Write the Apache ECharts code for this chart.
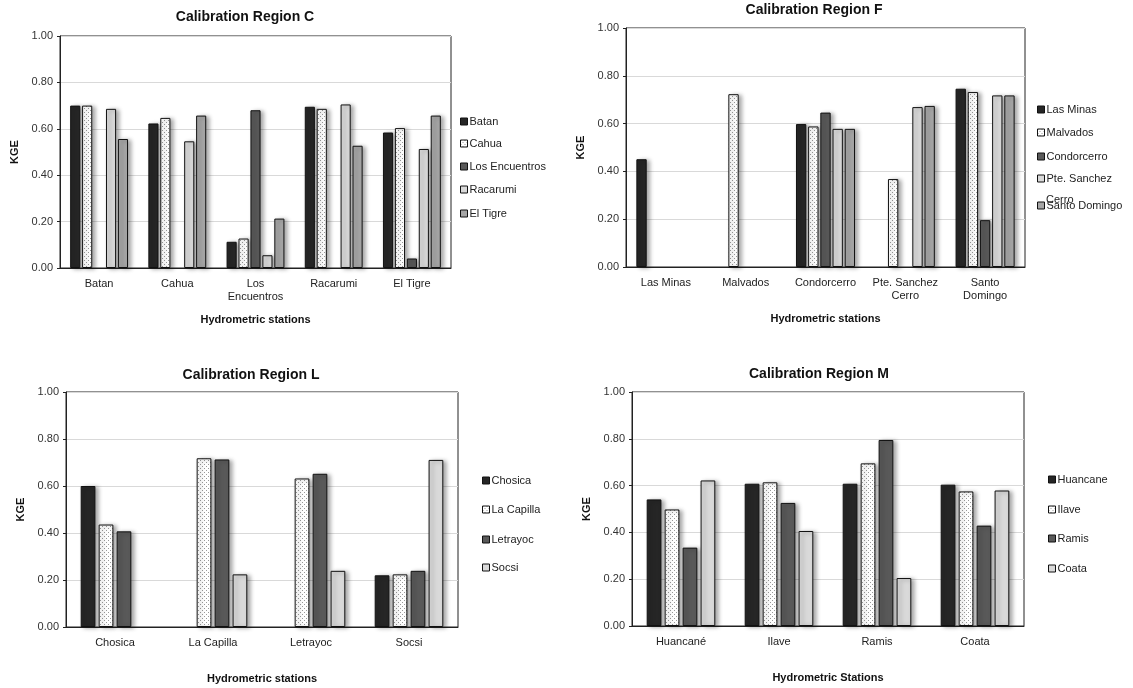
<!DOCTYPE html>
<html>
<head>
<meta charset="utf-8">
<script src="https://cdn.jsdelivr.net/npm/echarts@6/dist/echarts.min.js"></script>
<style>
html,body{margin:0;padding:0;background:#fff;}
#chart{width:1133px;height:688px;}
</style>
</head>
<body>
<div id="chart"></div>
<script>
// ---------- DATA ----------
// Region C
const catsC = ['Batan', 'Cahua', 'Los\nEncuentros', 'Racarumi', 'El Tigre'];
const namesC = ['Batan', 'Cahua', 'Los Encuentros', 'Racarumi', 'El Tigre'];
const C_batan = [0.70, 0.623, 0.113, 0.695, 0.584];
const C_cahua = [0.70, 0.647, 0.127, 0.686, 0.603];
const C_losEncuentros = [null, null, 0.680, null, 0.041];
const C_racarumi = [0.686, 0.546, 0.055, 0.705, 0.513];
const C_elTigre = [0.556, 0.657, 0.213, 0.527, 0.657];

// Region F
const catsF = ['Las Minas', 'Malvados', 'Condorcerro', 'Pte. Sanchez\nCerro', 'Santo\nDomingo'];
const namesF = ['Las Minas', 'Malvados', 'Condorcerro', 'Pte. Sanchez Cerro', 'Santo Domingo'];
const F_lasMinas = [0.451, null, 0.598, null, 0.746];
const F_malvados = [null, 0.723, 0.588, 0.368, 0.732];
const F_condorcerro = [null, null, 0.646, null, 0.196];
const F_pteSanchezCerro = [null, null, 0.578, 0.669, 0.718];
const F_santoDomingo = [null, null, 0.578, 0.674, 0.718];

// Region L
const catsL = ['Chosica', 'La Capilla', 'Letrayoc', 'Socsi'];
const namesL = ['Chosica', 'La Capilla', 'Letrayoc', 'Socsi'];
const L_chosica = [0.600, null, null, 0.220];
const L_laCapilla = [0.436, 0.718, 0.632, 0.224];
const L_letrayoc = [0.407, 0.713, 0.652, 0.239];
const L_socsi = [null, 0.224, 0.239, 0.711];

// Region M
const catsM = ['Huancané', 'Ilave', 'Ramis', 'Coata'];
const namesM = ['Huancane', 'Ilave', 'Ramis', 'Coata'];
const M_huancane = [0.541, 0.608, 0.608, 0.604];
const M_ilave = [0.498, 0.614, 0.695, 0.575];
const M_ramis = [0.335, 0.526, 0.795, 0.429];
const M_coata = [0.622, 0.406, 0.205, 0.579];

const yTicks = [0, 0.2, 0.4, 0.6, 0.8, 1.0];

// ---------- STYLE ----------
const FONT = 'Liberation Sans, Arial, sans-serif';
function dotPattern() {
  const c = document.createElement('canvas');
  c.width = 4; c.height = 4;
  const g = c.getContext('2d');
  g.fillStyle = '#ffffff'; g.fillRect(0, 0, 4, 4);
  g.fillStyle = '#9a9a9a';
  g.fillRect(0, 0, 1, 1); g.fillRect(2, 2, 1, 1);
  return c;
}
const DOTS = { image: dotPattern(), repeat: 'repeat' };
const fillsC = ['#262626', DOTS, '#595959', '#d9d9d9', '#a6a6a6'];
const fillsF = ['#262626', DOTS, '#595959', '#d9d9d9', '#a6a6a6'];
const fillsL = ['#262626', DOTS, '#595959', '#d9d9d9'];
const fillsM = ['#262626', DOTS, '#595959', '#d9d9d9'];

const panels = [
  { title: 'Calibration Region C', tx: 245, ty: 17,
    grid: { left: 60, top: 36, width: 391, height: 232 },
    cats: catsC, names: namesC, fills: fillsC,
    values: [C_batan, C_cahua, C_losEncuentros, C_racarumi, C_elTigre],
    xName: 'Hydrometric stations', catGap: '26%', barGap: '18%',
    lx: 460, ly: [123, 145, 168, 191, 215] },
  { title: 'Calibration Region F', tx: 814, ty: 10,
    grid: { left: 626, top: 28, width: 399, height: 239 },
    cats: catsF, names: namesF, fills: fillsF,
    values: [F_lasMinas, F_malvados, F_condorcerro, F_pteSanchezCerro, F_santoDomingo],
    xName: 'Hydrometric stations', catGap: '26%', barGap: '18%',
    lx: 1037, ly: [111, 134, 158, 180, 207] },
  { title: 'Calibration Region L', tx: 251, ty: 375,
    grid: { left: 66, top: 392, width: 392, height: 235 },
    cats: catsL, names: namesL, fills: fillsL,
    values: [L_chosica, L_laCapilla, L_letrayoc, L_socsi],
    xName: 'Hydrometric stations', catGap: '30%', barGap: '22%',
    lx: 482, ly: [482, 511, 541, 569] },
  { title: 'Calibration Region M', tx: 819, ty: 374,
    grid: { left: 632, top: 392, width: 392, height: 234 },
    cats: catsM, names: namesM, fills: fillsM,
    values: [M_huancane, M_ilave, M_ramis, M_coata],
    xName: 'Hydrometric Stations', catGap: '30%', barGap: '22%',
    lx: 1048, ly: [481, 511, 540, 570] }
];

// ---------- OPTION ----------
const option = {
  animation: false,
  backgroundColor: '#ffffff',
  grid: [], xAxis: [], yAxis: [], series: [], legend: [], graphic: []
};

panels.forEach((p, i) => {
  option.grid.push(Object.assign({ show: true, borderColor: '#222', borderWidth: 1, backgroundColor: 'transparent' }, p.grid));
  option.xAxis.push({
    type: 'category', gridIndex: i, data: p.cats,
    axisTick: { show: false },
    axisLine: { lineStyle: { color: '#222', width: 1 } },
    axisLabel: { interval: 0, fontSize: 11, color: '#222', fontFamily: FONT, margin: 9, lineHeight: 13 },
    name: p.xName, nameLocation: 'middle', nameGap: 46,
    nameTextStyle: { fontWeight: 'bold', fontSize: 11, color: '#111', fontFamily: FONT }
  });
  option.yAxis.push({
    type: 'value', gridIndex: i, min: yTicks[0], max: yTicks[yTicks.length - 1], interval: 0.2,
    axisLine: { show: true, lineStyle: { color: '#222', width: 1 } },
    axisTick: { show: true, length: 3, lineStyle: { color: '#222' } },
    axisLabel: { formatter: v => v.toFixed(2), fontSize: 11, color: '#333', fontFamily: FONT, margin: 7 },
    splitLine: { lineStyle: { color: '#d9d9d9', width: 1 } },
    name: 'KGE', nameLocation: 'middle', nameGap: 40, nameRotate: 90,
    nameTextStyle: { fontWeight: 'bold', fontSize: 11, color: '#111', fontFamily: FONT }
  });
  p.names.forEach((nm, k) => {
    option.series.push({
      type: 'bar', name: nm, xAxisIndex: i, yAxisIndex: i,
      data: p.values[k],
      barCategoryGap: p.catGap, barGap: p.barGap,
      itemStyle: {
        color: p.fills[k], borderColor: '#111', borderWidth: 1,
        shadowColor: 'rgba(0,0,0,0.35)', shadowBlur: 4, shadowOffsetX: 3, shadowOffsetY: 1
      },
      emphasis: { disabled: true }
    });
    option.legend.push({
      data: [nm], left: p.lx, top: p.ly[k] - 7, padding: 0,
      icon: 'rect', itemWidth: 7, itemHeight: 7,
      itemStyle: { borderColor: '#111', borderWidth: 1, shadowBlur: 0, shadowOffsetX: 0, shadowOffsetY: 0 },
      formatter: n => (n === 'Pte. Sanchez Cerro' ? 'Pte. Sanchez' : n),
      textStyle: { fontSize: 11, color: '#222', fontFamily: FONT, padding: [0, 0, 0, -3] }
    });
  });
  option.graphic.push({
    type: 'text', x: p.tx, y: p.ty,
    style: { text: p.title, font: 'bold 14px ' + FONT, fill: '#111', textAlign: 'center', textVerticalAlign: 'middle' }
  });
});
// second line of the wrapped legend entry in region F
option.graphic.push({
  type: 'text', x: 1046, y: 200,
  style: { text: 'Cerro', font: '11px ' + FONT, fill: '#222', textAlign: 'left', textVerticalAlign: 'middle' }
});

const chart = echarts.init(document.getElementById('chart'), null, { renderer: 'canvas' });
chart.setOption(option);
</script>
</body>
</html>
